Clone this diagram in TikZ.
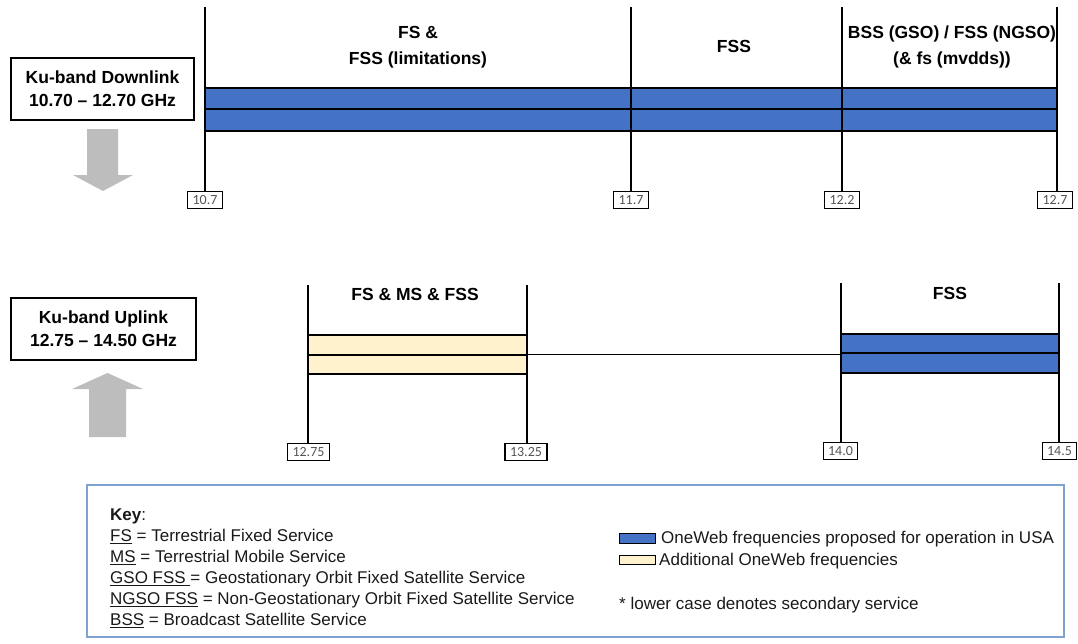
\documentclass[tikz,border=0pt]{standalone}
\usepackage{fontspec}
\setmainfont{Liberation Sans}
\newfontfamily\numfont{Carlito}
\definecolor{oweb}{HTML}{4472C4}
\definecolor{addl}{HTML}{FFF2CC}
\definecolor{agray}{HTML}{BDBDBD}
\definecolor{keyblue}{HTML}{7FA2D2}
\definecolor{numgray}{HTML}{555555}
\begin{document}
\begin{tikzpicture}[x=1pt,y=-1pt,
  tick/.style={draw=black, line width=1.1pt, fill=white, inner xsep=5pt, inner ysep=0pt, minimum height=16.5pt, text=numgray, font=\numfont\fontsize{14}{14}\selectfont},
  vline/.style={line width=1.9pt},
  bar/.style={draw=black, line width=1.4pt},
  band/.style={font=\bfseries\fontsize{17.5}{26}\selectfont, align=center, inner sep=0pt},
  lbox/.style={draw=black, line width=1.4pt, align=center, font=\bfseries\fontsize{17.5}{23}\selectfont, inner sep=0pt},
  keytxt/.style={anchor=base west, inner sep=0pt, text=black!90, font=\fontsize{17}{20}\selectfont},
  swatch/.style={draw=black, line width=1pt}
]
\useasboundingbox (0,0) rectangle (1078,643);

% ---------- Downlink ----------
\node[lbox, minimum width=183pt, minimum height=62pt] (dl) at (102.5,89) {Ku-band Downlink\\10.70 -- 12.70 GHz};
\fill[agray] (87,129) -- (118,129) -- (118,175) -- (133,175) -- (103,191) -- (73,175) -- (87,175) -- cycle;

\draw[bar, fill=oweb] (205,88) rectangle (1057,131);
\draw[bar] (205,109) -- (1057,109);

\node[tick] (t107) at (205,200) {10.7};
\node[tick] (t117) at (631,200) {11.7};
\node[tick] (t122) at (842,200) {12.2};
\node[tick] (t127) at (1055,200) {12.7};
\coordinate (t107top) at (205,7);
\coordinate (t117top) at (631,7);
\coordinate (t122top) at (842,7);
\coordinate (t127top) at (1057,7);
\draw[vline] (t107top) -- (t107top |- t107.north);
\draw[vline] (t117top) -- (t117top |- t117.north);
\draw[vline] (t122top) -- (t122top |- t122.north);
\draw[vline] (t127top) -- (t127top |- t127.north);

\node[band] (s1) at (418,47) {FS \&\\FSS (limitations)};
\node[band] (s2) at (734,46) {FSS};
\node[band] (s3) at (952,47) {BSS (GSO) / FSS (NGSO)\\(\& fs (mvdds))};

% ---------- Uplink ----------
\node[lbox, minimum width=185pt, minimum height=62pt] (ul) at (103.5,329) {Ku-band Uplink\\12.75 -- 14.50 GHz};
\fill[agray] (107.5,373) -- (143,389) -- (126,389) -- (126,437) -- (89,437) -- (89,389) -- (72,389) -- cycle;

\draw[line width=1pt] (527,354) -- (841,354);
\draw[bar, fill=addl] (308,335) rectangle (527,374);
\draw[bar] (308,355) -- (527,355);
\draw[bar, fill=oweb] (841,334) rectangle (1059,373);
\draw[bar] (841,353) -- (1059,353);

\node[tick] (t1275) at (308.5,452) {12.75};
\node[tick] (t1325) at (526,452) {13.25};
\node[tick] (t140) at (840.5,451) {14.0};
\node[tick] (t145) at (1059.5,451) {14.5};
\coordinate (t1275top) at (308,285);
\coordinate (t1325top) at (527,285);
\coordinate (t140top) at (841,283);
\coordinate (t145top) at (1059,283);
\draw[vline] (t1275top) -- (t1275top |- t1275.north);
\draw[vline] (t1325top) -- (t1325top |- t1325.north);
\draw[vline] (t140top) -- (t140top |- t140.north);
\draw[vline] (t145top) -- (t145top |- t145.north);

\node[band] (s4) at (415,294) {FS \& MS \& FSS};
\node[band] (s5) at (950,293) {FSS};

% ---------- Key ----------
\node[draw=keyblue, line width=1.2pt, minimum width=977pt, minimum height=152pt, inner sep=0pt] (key) at (575.5,561) {};
\node[keytxt] (k0) at (110,520.5) {\textbf{Key}:};
\node[keytxt] (k1) at (110,541.5) {\underline{FS} = Terrestrial Fixed Service};
\node[keytxt] (k2) at (110,562.5) {\underline{MS} = Terrestrial Mobile Service};
\node[keytxt] (k3) at (110,583.5) {\underline{GSO FSS\ }= Geostationary Orbit Fixed Satellite Service};
\node[keytxt] (k4) at (110,604.5) {\underline{NGSO FSS} = Non-Geostationary Orbit Fixed Satellite Service};
\node[keytxt] (k5) at (110,625.5) {\underline{BSS} = Broadcast Satellite Service};

\node[swatch, fill=oweb, minimum width=36pt, minimum height=10pt, inner sep=0pt] (sw1) at (637,538) {};
\node[swatch, fill=addl, minimum width=36pt, minimum height=9pt, inner sep=0pt] (sw2) at (637,559.5) {};
\node[keytxt] (l1) at (661,543.5) {OneWeb frequencies proposed for operation in USA};
\node[keytxt] (l2) at (659,565.5) {Additional OneWeb frequencies};
\node[keytxt] (l3) at (619,609) {* lower case denotes secondary service};
\end{tikzpicture}
\end{document}
